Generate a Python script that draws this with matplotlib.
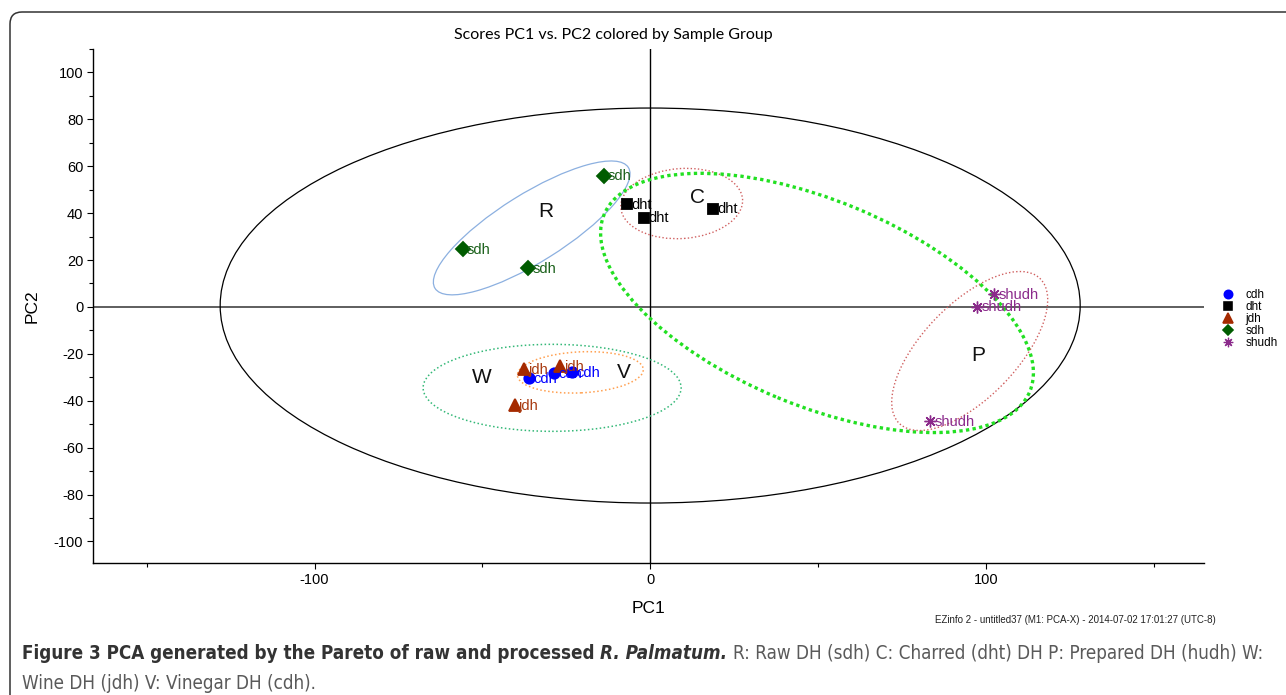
import numpy as np
import matplotlib
matplotlib.use('Agg')
import matplotlib.pyplot as plt
from matplotlib.patches import Ellipse, FancyBboxPatch
from matplotlib.transforms import ScaledTranslation, IdentityTransform
from matplotlib.lines import Line2D
from matplotlib import font_manager as fm
from matplotlib.ticker import MultipleLocator, FixedLocator

# ---------------- data ----------------
groups = ['cdh', 'dht', 'jdh', 'sdh', 'shudh']
cdh_pc1 = [-36.1, -28.6, -23.3]
cdh_pc2 = [-30.4, -28.3, -27.9]
dht_pc1 = [-6.9, -1.7, 18.8]
dht_pc2 = [43.8, 38.1, 41.9]
jdh_pc1 = [-37.5, -26.8, -40.4]
jdh_pc2 = [-26.4, -25.2, -41.8]
sdh_pc1 = [-13.9, -55.9, -36.4]
sdh_pc2 = [56.0, 24.7, 16.5]
shudh_pc1 = [102.5, 97.4, 83.5]
shudh_pc2 = [5.4, 0.1, -48.6]

x_ticks = [-100, 0, 100]
y_ticks = [-100, -80, -60, -40, -20, 0, 20, 40, 60, 80, 100]

group_letters = ['R', 'C', 'P', 'W', 'V']
letter_pc1 = [-31.0, 14.0, 97.6, -50.3, -7.7]
letter_pc2 = [40.9, 46.5, -20.5, -30.3, -28.1]

# ---------------- figure ----------------
W, H = 1286, 695
plt.rcParams['font.family'] = ['Liberation Sans', 'DejaVu Sans']
plt.rcParams['axes.unicode_minus'] = False
fig = plt.figure(figsize=(W / 100, H / 100), dpi=100)
ax = fig.add_axes([93 / W, 1 - 563 / H, (1204 - 93) / W, (563 - 49) / H])
ax.set_xlim(-166, 165)
ax.set_ylim(-109.2, 110)

for s in ['top', 'right']:
    ax.spines[s].set_visible(False)
for s in ['left', 'bottom']:
    ax.spines[s].set_linewidth(1.0)
    ax.spines[s].set_color('black')

ax.xaxis.set_major_locator(FixedLocator(x_ticks))
ax.xaxis.set_minor_locator(FixedLocator([-150, -50, 50, 150]))
ax.yaxis.set_major_locator(FixedLocator(y_ticks))
ax.yaxis.set_minor_locator(MultipleLocator(10))
ax.tick_params(axis='both', which='major', length=4, width=0.8, labelsize=10.5, pad=3)
ax.tick_params(axis='both', which='minor', length=3, width=0.8)
ax.set_xlabel('PC1', fontsize=12.5, labelpad=10)
ax.set_ylabel('PC2', fontsize=12.5, labelpad=10)

ax.axhline(0, color='#333333', lw=1.1, zorder=1)
ax.axvline(0, color='black', lw=1.0, zorder=1)

# confidence ellipses: data centre, pixel size, visual angle
ell_specs = [
    (0.0, 0.6, 860, 395, 0.0, 'black', '-', 0.9),
    (-35.3, 33.7, 228, 68, 32.0, '#8CB0E0', '-', 0.9),
    (9.4, 44.1, 122, 70, 4.0, '#D06060', (0, (1, 1.6)), 1.0),
    (49.7, 1.7, 461, 205, -22.6, '#22E022', (0, (1, 1.0)), 2.4),
    (95.2, -18.8, 202, 94, 45.85, '#D06060', (0, (1, 1.6)), 1.0),
    (-29.2, -34.5, 258, 87, 0.0, '#33B877', (0, (1, 1.6)), 1.1),
    (-20.8, -27.9, 126, 41, 2.75, '#FFA050', (0, (1, 1.6)), 1.1),
]
for cx, cy, wpx, hpx, ang, col, ls, lw in ell_specs:
    tr = fig.dpi_scale_trans + ScaledTranslation(cx, cy, ax.transData)
    e = Ellipse((0, 0), wpx / 100, hpx / 100, angle=ang, transform=tr,
                fill=False, edgecolor=col, linestyle=ls, lw=lw, zorder=2)
    ax.add_patch(e)

styles = {
    'cdh': dict(marker='o', color='#0000FF', ms=7.5, mew=1.3, tcol='#0000FF'),
    'dht': dict(marker='s', color='black', ms=7.5, mew=1.3, tcol='black'),
    'jdh': dict(marker='^', color='#A52A00', ms=8.5, mew=1.3, tcol='#A83A10'),
    'sdh': dict(marker='D', color='#005C00', ms=7.0, mew=1.3, tcol='#1A601A'),
    'shudh': dict(marker=(8, 2, 0), color='#8B2A8B', ms=8.5, mew=1.0, tcol='#8B2A8B'),
}
data = {
    'cdh': (cdh_pc1, cdh_pc2), 'dht': (dht_pc1, dht_pc2), 'jdh': (jdh_pc1, jdh_pc2),
    'sdh': (sdh_pc1, sdh_pc2), 'shudh': (shudh_pc1, shudh_pc2),
}
handles = []
for g in groups:
    xs, ys = data[g]
    st = styles[g]
    ax.plot(xs, ys, linestyle='none', marker=st['marker'], color=st['color'],
            ms=st['ms'], mew=st['mew'], zorder=4)
    for x, y in zip(xs, ys):
        ax.annotate(g, (x, y), xytext=(3.0, -0.5), textcoords='offset points',
                    ha='left', va='center', fontsize=10.5, color=st['tcol'], zorder=5)
    handles.append(Line2D([], [], linestyle='none', marker=st['marker'], color=st['color'],
                          ms=st['ms'] * 0.8, mew=st['mew'] * 0.9))

for L, x, y in zip(group_letters, letter_pc1, letter_pc2):
    ax.text(x, y, L, fontsize=15, ha='center', va='center', color='#111111', zorder=5)

fig.legend(handles, groups, loc='upper left', bbox_to_anchor=(1223 / W, 1 - 289 / H),
           frameon=False, fontsize=8.5, handlelength=0.9, handletextpad=1.0,
           labelspacing=-0.01, handleheight=0.5, borderpad=0, borderaxespad=0)

fig.text(613 / W, 1 - 35 / H, 'Scores PC1 vs. PC2 colored by Sample Group',
         ha='center', va='center', fontsize=11.5, family=['Lato', 'DejaVu Sans'])
fig.text(935 / W, 1 - 620 / H, 'EZinfo 2 - untitled37 (M1: PCA-X) - 2014-07-02 17:01:27 (UTC-8)',
         ha='left', va='center', fontsize=7.0, color='#222222')

# frame
frame = FancyBboxPatch((10, -40), 1400, (H - 12) + 40, boxstyle='round,pad=0,rounding_size=12',
                       transform=IdentityTransform(), fill=False, edgecolor='#333333', lw=1.1)
fig.add_artist(frame)

# caption
names = {f.name for f in fm.fontManager.ttflist}
if 'Liberation Sans Narrow' in names:
    cap_fam = ['Liberation Sans Narrow', 'DejaVu Sans']
    cap_stretch = 'normal'
else:
    cap_fam = ['DejaVu Sans']
    cap_stretch = 'condensed'

line1 = [('Figure 3 PCA generated by the Pareto of raw and processed', 'bold', 'normal', '#333333'),
         ('R. Palmatum.', 'bold', 'italic', '#333333'),
         ('R: Raw DH (sdh) C: Charred (dht) DH P: Prepared DH (hudh) W:', 'normal', 'normal', '#5a5a5a')]
line2 = [('Wine DH (jdh) V: Vinegar DH (cdh).', 'normal', 'normal', '#5a5a5a')]

renderer = fig.canvas.get_renderer()


def make_text(s, size, weight, style, color, x=0, y=0):
    return fig.text(x, y, s, fontsize=size, fontweight=weight, fontstyle=style, color=color,
                    family=cap_fam, fontstretch=cap_stretch, ha='left', va='baseline')


def line_width(pieces, size):
    total = 0
    for s, w, st, c in pieces:
        t = make_text(s, size, w, st, c)
        total += t.get_window_extent(renderer).width
        t.remove()
    return total + (len(pieces) - 1) * 0.3 * size * 100 / 72


base = 11.0
wid = line_width(line1, base)
size = base * (1240 / wid)


def place(pieces, size, x0, ybase):
    x = x0
    for s, w, st, c in pieces:
        t = make_text(s, size, w, st, c, x / W, 1 - ybase / H)
        x += t.get_window_extent(renderer).width + 0.3 * size * 100 / 72


place(line1, size, 22, 659)
place(line2, size, 22, 689)

fig.savefig('out.png', dpi=100)
